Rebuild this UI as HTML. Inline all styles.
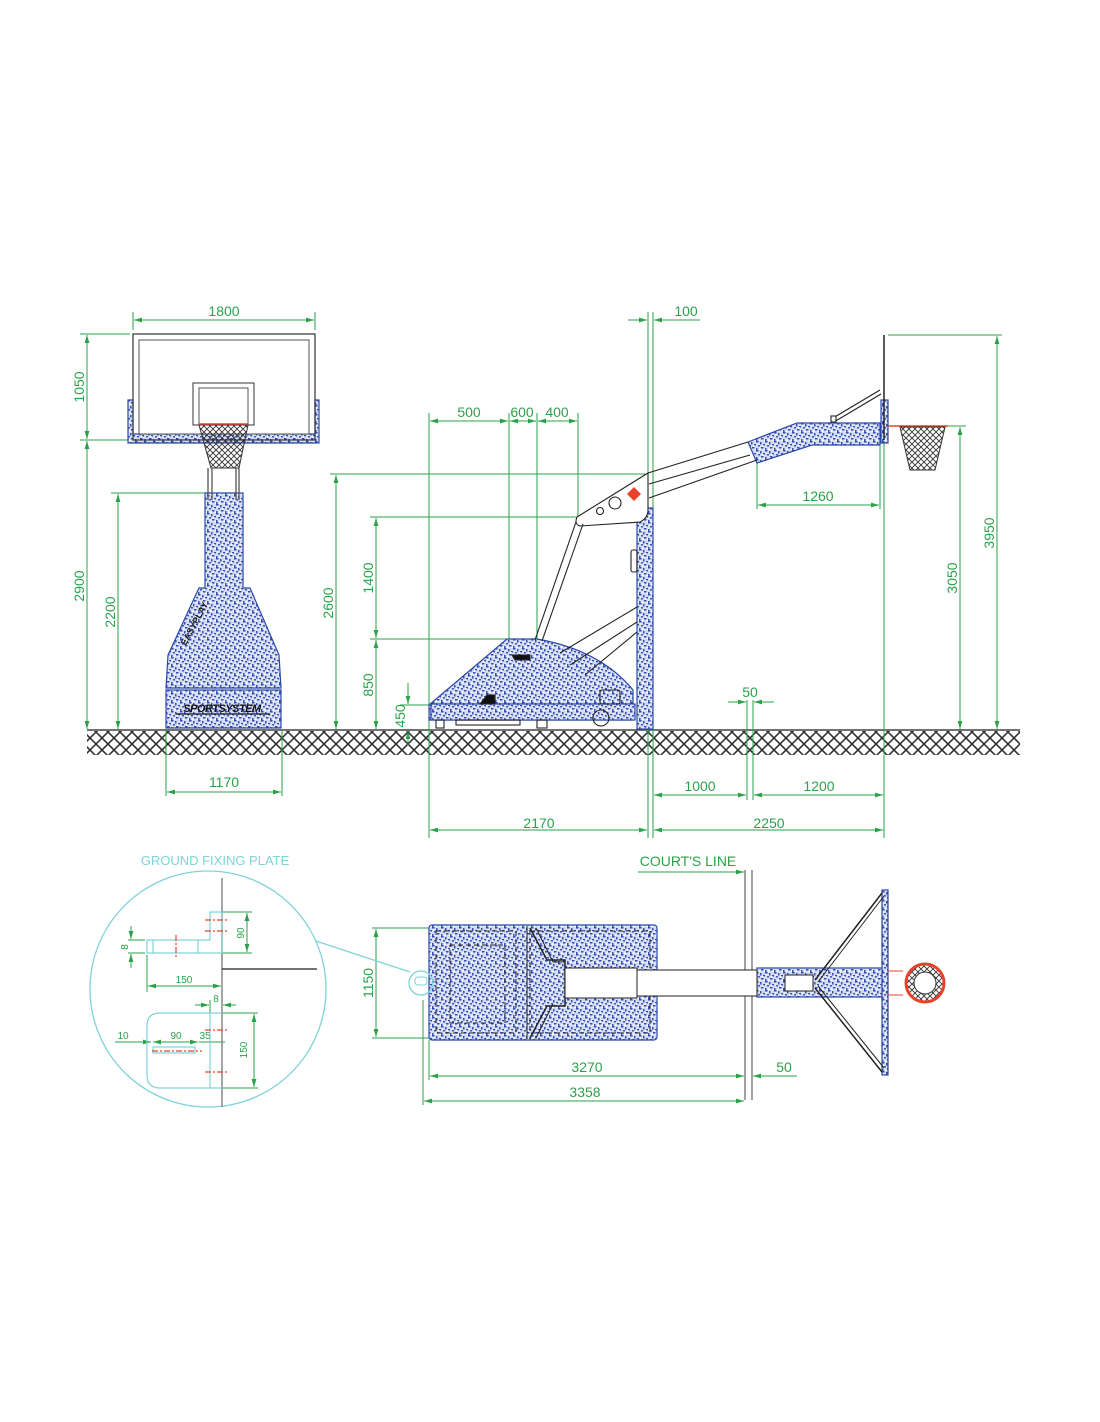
<!DOCTYPE html>
<html><head><meta charset="utf-8"><style>
html,body{margin:0;padding:0;background:#fff;}
svg{display:block;}
text{font-family:"Liberation Sans",sans-serif;}
</style></head><body>
<svg width="1100" height="1422" viewBox="0 0 1100 1422" xmlns="http://www.w3.org/2000/svg">
<defs>
<pattern id="sp" width="9" height="9" patternUnits="userSpaceOnUse">
<rect width="9" height="9" fill="#d4dbf3"/>
<rect x="0" y="0" width="2.5" height="1.5" fill="#2f4cb0"/>
<rect x="4" y="1" width="1.5" height="2.5" fill="#3553b5"/>
<rect x="7" y="3" width="2" height="1.5" fill="#2f4cb0"/>
<rect x="2" y="4" width="2" height="1.5" fill="#3a58b8"/>
<rect x="5" y="6" width="2.5" height="1.5" fill="#2f4cb0"/>
<rect x="0" y="7" width="1.5" height="2" fill="#3553b5"/>
<rect x="3" y="7.5" width="1.5" height="1.5" fill="#fff"/>
<rect x="6" y="4" width="1.5" height="1.5" fill="#fff"/>
<rect x="1" y="2.5" width="1.5" height="1" fill="#fff"/>
<rect x="7.5" y="7.5" width="1.5" height="1.5" fill="#fff"/>
</pattern>
<pattern id="gh" width="12" height="12" patternUnits="userSpaceOnUse">
<path d="M0 0L12 12M12 0L0 12" stroke="#333" stroke-width="1.6"/>
</pattern>
<pattern id="net" width="6" height="6" patternUnits="userSpaceOnUse">
<path d="M0 0L6 6M6 0L0 6" stroke="#333" stroke-width="0.9"/>
</pattern>
<marker id="a" viewBox="0 0 10 6" refX="10" refY="3" markerWidth="8" markerHeight="5" orient="auto-start-reverse"><path d="M0 0L10 3L0 6z" fill="#2aa24a"/></marker>
</defs>

<rect x="87" y="731" width="933" height="24" fill="url(#gh)"/>
<line x1="87" y1="730" x2="1020" y2="730" stroke="#444" stroke-width="1.5"/>

<g stroke="#2aa24a" stroke-width="1" fill="none">
<line x1="133" y1="312" x2="133" y2="330"/><line x1="315" y1="312" x2="315" y2="330"/>
<line x1="134" y1="320" x2="314" y2="320" marker-start="url(#a)" marker-end="url(#a)"/>
<line x1="80" y1="334" x2="130" y2="334"/><line x1="80" y1="440" x2="128" y2="440"/>
<line x1="87" y1="335" x2="87" y2="439" marker-start="url(#a)" marker-end="url(#a)"/>
<line x1="87" y1="441" x2="87" y2="729" marker-start="url(#a)" marker-end="url(#a)"/>
<line x1="111" y1="493" x2="205" y2="493"/>
<line x1="118" y1="494" x2="118" y2="729" marker-start="url(#a)" marker-end="url(#a)"/>
<line x1="330" y1="474" x2="645" y2="474"/>
<line x1="336" y1="475" x2="336" y2="729" marker-start="url(#a)" marker-end="url(#a)"/>
<line x1="166" y1="730" x2="166" y2="796"/><line x1="282" y1="730" x2="282" y2="796"/>
<line x1="167" y1="792" x2="281" y2="792" marker-start="url(#a)" marker-end="url(#a)"/>
<line x1="648" y1="312" x2="648" y2="838"/><line x1="653" y1="312" x2="653" y2="838"/>
<line x1="628" y1="320" x2="647" y2="320" marker-end="url(#a)"/>
<line x1="700" y1="320" x2="654" y2="320" marker-end="url(#a)"/>
<line x1="429" y1="413" x2="429" y2="838"/><line x1="509" y1="413" x2="509" y2="639"/>
<line x1="537" y1="413" x2="537" y2="639"/><line x1="578" y1="413" x2="578" y2="517"/>
<line x1="430" y1="421" x2="508" y2="421" marker-start="url(#a)" marker-end="url(#a)"/>
<line x1="510" y1="421" x2="536" y2="421" marker-start="url(#a)" marker-end="url(#a)"/>
<line x1="538" y1="421" x2="577" y2="421" marker-start="url(#a)" marker-end="url(#a)"/>
<line x1="370" y1="517" x2="578" y2="517"/><line x1="370" y1="639" x2="537" y2="639"/>
<line x1="376" y1="518" x2="376" y2="638" marker-start="url(#a)" marker-end="url(#a)"/>
<line x1="376" y1="640" x2="376" y2="729" marker-start="url(#a)" marker-end="url(#a)"/>
<line x1="400" y1="705" x2="429" y2="705"/>
<line x1="408" y1="683" x2="408" y2="704" marker-end="url(#a)"/>
<line x1="408" y1="745" x2="408" y2="731" marker-end="url(#a)"/>
<line x1="757" y1="463" x2="757" y2="509"/><line x1="880" y1="445" x2="880" y2="509"/>
<line x1="758" y1="505" x2="879" y2="505" marker-start="url(#a)" marker-end="url(#a)"/>
<line x1="948" y1="426" x2="966" y2="426"/>
<line x1="960" y1="427" x2="960" y2="729" marker-start="url(#a)" marker-end="url(#a)"/>
<line x1="888" y1="335" x2="1002" y2="335"/>
<line x1="997" y1="336" x2="997" y2="729" marker-start="url(#a)" marker-end="url(#a)"/>
<line x1="747" y1="700" x2="747" y2="800"/><line x1="753" y1="700" x2="753" y2="800"/>
<line x1="728" y1="702" x2="746" y2="702" marker-end="url(#a)"/>
<line x1="774" y1="702" x2="754" y2="702" marker-end="url(#a)"/>
<line x1="884" y1="440" x2="884" y2="838"/>
<line x1="654" y1="795" x2="746" y2="795" marker-start="url(#a)" marker-end="url(#a)"/>
<line x1="754" y1="795" x2="883" y2="795" marker-start="url(#a)" marker-end="url(#a)"/>
<line x1="430" y1="830" x2="647" y2="830" marker-start="url(#a)" marker-end="url(#a)"/>
<line x1="654" y1="830" x2="883" y2="830" marker-start="url(#a)" marker-end="url(#a)"/>
<line x1="638" y1="872" x2="744" y2="872" marker-end="url(#a)"/>
<line x1="372" y1="928" x2="429" y2="928"/><line x1="372" y1="1038" x2="429" y2="1038"/>
<line x1="376" y1="929" x2="376" y2="1037" marker-start="url(#a)" marker-end="url(#a)"/>
<line x1="429" y1="1040" x2="429" y2="1080"/><line x1="423" y1="1000" x2="423" y2="1105"/>
<line x1="430" y1="1076" x2="744" y2="1076" marker-start="url(#a)" marker-end="url(#a)"/>
<line x1="797" y1="1076" x2="753" y2="1076" marker-end="url(#a)"/>
<line x1="424" y1="1101" x2="744" y2="1101" marker-start="url(#a)" marker-end="url(#a)"/>
<line x1="222" y1="912" x2="252" y2="912"/><line x1="222" y1="953" x2="252" y2="953"/>
<line x1="247" y1="913" x2="247" y2="952" marker-start="url(#a)" marker-end="url(#a)"/>
<line x1="128" y1="940" x2="145" y2="940"/><line x1="128" y1="953" x2="145" y2="953"/>
<line x1="131" y1="926" x2="131" y2="939" marker-end="url(#a)"/>
<line x1="131" y1="968" x2="131" y2="954" marker-end="url(#a)"/>
<line x1="147" y1="955" x2="147" y2="992"/>
<line x1="148" y1="986" x2="221" y2="986" marker-start="url(#a)" marker-end="url(#a)"/>
<line x1="195" y1="1005" x2="209" y2="1005" marker-end="url(#a)"/>
<line x1="236" y1="1005" x2="223" y2="1005" marker-end="url(#a)"/>
<line x1="210" y1="1000" x2="210" y2="1013"/>
<line x1="222" y1="1013" x2="258" y2="1013"/><line x1="222" y1="1088" x2="258" y2="1088"/>
<line x1="254" y1="1014" x2="254" y2="1087" marker-start="url(#a)" marker-end="url(#a)"/>
<line x1="115" y1="1042" x2="151" y2="1042" marker-end="url(#a)"/>
<line x1="153" y1="1042" x2="198" y2="1042" marker-start="url(#a)" marker-end="url(#a)"/>
<line x1="199" y1="1042" x2="225" y2="1042"/>
</g>

<g fill="#2aa24a" font-size="14">
<text x="224" y="316" text-anchor="middle">1800</text>
<text transform="translate(84,387) rotate(-90)" text-anchor="middle">1050</text>
<text transform="translate(84,586) rotate(-90)" text-anchor="middle">2900</text>
<text transform="translate(115,612) rotate(-90)" text-anchor="middle">2200</text>
<text transform="translate(333,603) rotate(-90)" text-anchor="middle">2600</text>
<text x="224" y="787" text-anchor="middle">1170</text>
<text x="686" y="316" text-anchor="middle">100</text>
<text x="469" y="417" text-anchor="middle">500</text>
<text x="522" y="417" text-anchor="middle">600</text>
<text x="557" y="417" text-anchor="middle">400</text>
<text transform="translate(373,578) rotate(-90)" text-anchor="middle">1400</text>
<text transform="translate(373,685) rotate(-90)" text-anchor="middle">850</text>
<text transform="translate(405,716) rotate(-90)" text-anchor="middle">450</text>
<text x="818" y="501" text-anchor="middle">1260</text>
<text transform="translate(957,578) rotate(-90)" text-anchor="middle">3050</text>
<text transform="translate(994,533) rotate(-90)" text-anchor="middle">3950</text>
<text x="750" y="697" text-anchor="middle">50</text>
<text x="700" y="791" text-anchor="middle">1000</text>
<text x="819" y="791" text-anchor="middle">1200</text>
<text x="539" y="828" text-anchor="middle">2170</text>
<text x="769" y="828" text-anchor="middle">2250</text>
<text x="688" y="866" text-anchor="middle">COURT'S LINE</text>
<text transform="translate(373,983) rotate(-90)" text-anchor="middle">1150</text>
<text x="587" y="1072" text-anchor="middle">3270</text>
<text x="784" y="1072" text-anchor="middle">50</text>
<text x="585" y="1097" text-anchor="middle">3358</text>
</g>
<g fill="#2aa24a" font-size="10">
<text transform="translate(244,933) rotate(-90)" text-anchor="middle">90</text>
<text transform="translate(128,947) rotate(-90)" text-anchor="middle">8</text>
<text x="184" y="983" text-anchor="middle">150</text>
<text x="216" y="1002" text-anchor="middle">8</text>
<text x="123" y="1039" text-anchor="middle">10</text>
<text x="176" y="1039" text-anchor="middle">90</text>
<text x="205" y="1039" text-anchor="middle">35</text>
<text transform="translate(247,1050) rotate(-90)" text-anchor="middle">150</text>
</g>

<g stroke="#2b47a8" stroke-width="1.2" fill="url(#sp)">
<path d="M128 400H133V434H315V400H319V443H128Z"/>
<path d="M205 493H243V588L250 588 279 655 281 688H166L168 655 199 588H205Z"/>
<rect x="166" y="690" width="115" height="38"/>
</g>
<rect x="133" y="334" width="182" height="106" fill="none" stroke="#333" stroke-width="1.2"/>
<rect x="139" y="340" width="170" height="94" fill="#fff" stroke="#555" stroke-width="1"/>
<rect x="193" y="383" width="61" height="42" fill="#fff" stroke="#333"/>
<rect x="199" y="388" width="49" height="36" fill="#fff" stroke="#555"/>
<path d="M199 425H248L239 468H211Z" fill="url(#net)" stroke="#333"/>
<line x1="199" y1="424" x2="248" y2="424" stroke="#e8432a" stroke-width="1.5"/>
<g stroke="#555" stroke-width="1.3"><line x1="208" y1="468" x2="208" y2="500"/><line x1="212" y1="468" x2="212" y2="500"/><line x1="236" y1="468" x2="236" y2="500"/><line x1="239" y1="468" x2="239" y2="500"/></g>
<text transform="translate(197,625) rotate(-62)" text-anchor="middle" font-size="9" font-weight="bold" fill="#222">EASYPLAY</text>
<text x="222" y="712" text-anchor="middle" font-size="11" font-weight="bold" font-style="italic" fill="#111" letter-spacing="-0.5">SPORTSYSTEM</text>
<line x1="176" y1="714" x2="270" y2="714" stroke="#111" stroke-width="1.2"/>

<g stroke="#2b47a8" stroke-width="1.2" fill="url(#sp)">
<rect x="637" y="508" width="16" height="221"/>
<path d="M429 705L507 639H537Q600 650 633 690V720H429Z"/>
<rect x="431" y="704" width="204" height="16"/>
<path d="M748 442L797 423H880V445H812L757 463Z"/>
<rect x="881" y="400" width="7" height="43"/>
</g>
<g stroke="#222" stroke-width="1.1" fill="none">
<line x1="648" y1="473" x2="748" y2="442"/><line x1="649" y1="484" x2="750" y2="455"/><line x1="649" y1="498" x2="757" y2="460"/>
<path d="M648 473L577 517Q574 524 580 526L640 522Q648 518 648 510Z" fill="#fff"/>
<circle cx="615" cy="503" r="6" fill="#fff"/><circle cx="600" cy="511" r="3.5" fill="#fff"/>
<line x1="576" y1="522" x2="535" y2="640"/><line x1="583" y1="524" x2="542" y2="641"/>
<line x1="637" y1="607" x2="560" y2="653"/><line x1="637" y1="622" x2="570" y2="665"/>
<line x1="637" y1="632" x2="585" y2="675"/>
<rect x="631" y="550" width="6" height="22" rx="2"/>
<line x1="884" y1="335" x2="884" y2="440" stroke-width="1.5"/>
<line x1="833" y1="418" x2="880" y2="390"/><line x1="834" y1="422" x2="881" y2="394"/>
<rect x="831" y="416" width="5" height="6" fill="#fff"/>
<rect x="436" y="720" width="8" height="8"/><rect x="537" y="720" width="10" height="8"/>
<rect x="456" y="720" width="64" height="5"/>
<circle cx="601" cy="718" r="8"/>
<rect x="600" y="690" width="20" height="14" rx="2"/>
<path d="M515 660H530V655H512Z" fill="#111"/>
<path d="M480 704L487 695H495V704Z" fill="#111"/>
</g>
<path d="M634 487L641 494 634 501 627 494Z" fill="#e8432a"/>
<line x1="888" y1="426" x2="948" y2="426" stroke="#e8432a" stroke-width="1.5"/>
<path d="M900 427H945L935 470H910Z" fill="url(#net)" stroke="#333"/>

<line x1="745" y1="870" x2="745" y2="1100" stroke="#444"/>
<line x1="752" y1="870" x2="752" y2="1100" stroke="#444"/>
<g stroke="#2b47a8" stroke-width="1.2" fill="url(#sp)">
<rect x="429" y="925" width="228" height="115" rx="3"/>
<rect x="757" y="968" width="127" height="29"/>
<rect x="882" y="890" width="6" height="185"/>
</g>
<g stroke="#222" fill="none" stroke-width="1">
<rect x="436" y="931" width="80" height="102" stroke-dasharray="5 3"/>
<rect x="450" y="945" width="55" height="78" stroke-dasharray="5 3"/>
<rect x="530" y="931" width="120" height="102" stroke-dasharray="5 3"/>
<line x1="527" y1="926" x2="527" y2="1039"/>
<path d="M530 928L547 960H565V1006H547L530 1038" stroke-width="1.5"/>
<path d="M536 928L553 962H565M553 1004L536 1038"/>
<rect x="565" y="968" width="72" height="30" fill="#fff"/>
<rect x="637" y="970" width="120" height="26" fill="#fff"/>
<rect x="785" y="975" width="28" height="16" fill="#fff"/>
<line x1="815" y1="980" x2="882" y2="893" stroke-width="1.5"/><line x1="818" y1="982" x2="884" y2="896"/>
<line x1="815" y1="988" x2="882" y2="1072" stroke-width="1.5"/><line x1="818" y1="986" x2="884" y2="1068"/>
</g>
<line x1="888" y1="971" x2="903" y2="971" stroke="#e8432a"/><line x1="888" y1="995" x2="903" y2="995" stroke="#e8432a"/>
<circle cx="925" cy="983" r="19" fill="url(#net)" stroke="#e8432a" stroke-width="3"/>
<circle cx="925" cy="983" r="11" fill="#fff" stroke="#333"/>

<text x="215" y="865" text-anchor="middle" font-size="13" fill="#7fd3d9">GROUND FIXING PLATE</text>
<circle cx="208" cy="989" r="118" fill="none" stroke="#7fd3d9" stroke-width="1.3"/>
<line x1="316" y1="941" x2="410" y2="972" stroke="#7fd3d9" stroke-width="1.3"/>
<circle cx="421" cy="983" r="12" fill="none" stroke="#7fd3d9" stroke-width="1.3"/>
<rect x="415" y="977" width="12" height="8" rx="3" fill="none" stroke="#7fd3d9"/>
<line x1="222" y1="878" x2="222" y2="1107" stroke="#888" stroke-width="1.5"/>
<line x1="222" y1="969" x2="317" y2="969" stroke="#222" stroke-width="1.2"/>
<g stroke="#7fd3d9" fill="none" stroke-width="1.2">
<path d="M147 940H210V912H222V953H147Z"/>
<line x1="153" y1="940" x2="153" y2="953"/><line x1="198" y1="940" x2="198" y2="953"/>
<path d="M222 1013H160Q147 1013 147 1026V1075Q147 1088 160 1088H222"/>
<line x1="210" y1="1013" x2="210" y2="1088"/>
<rect x="153" y="1047" width="42" height="6"/>
</g>
<g stroke="#e8432a" stroke-width="1.2" stroke-dasharray="6 2 2 2">
<line x1="176" y1="935" x2="176" y2="958"/>
<line x1="205" y1="920" x2="228" y2="920"/><line x1="205" y1="931" x2="228" y2="931"/>
<line x1="152" y1="1051" x2="202" y2="1051"/>
<line x1="205" y1="1030" x2="228" y2="1030"/><line x1="205" y1="1072" x2="228" y2="1072"/>
</g>
</svg>
</body></html>
